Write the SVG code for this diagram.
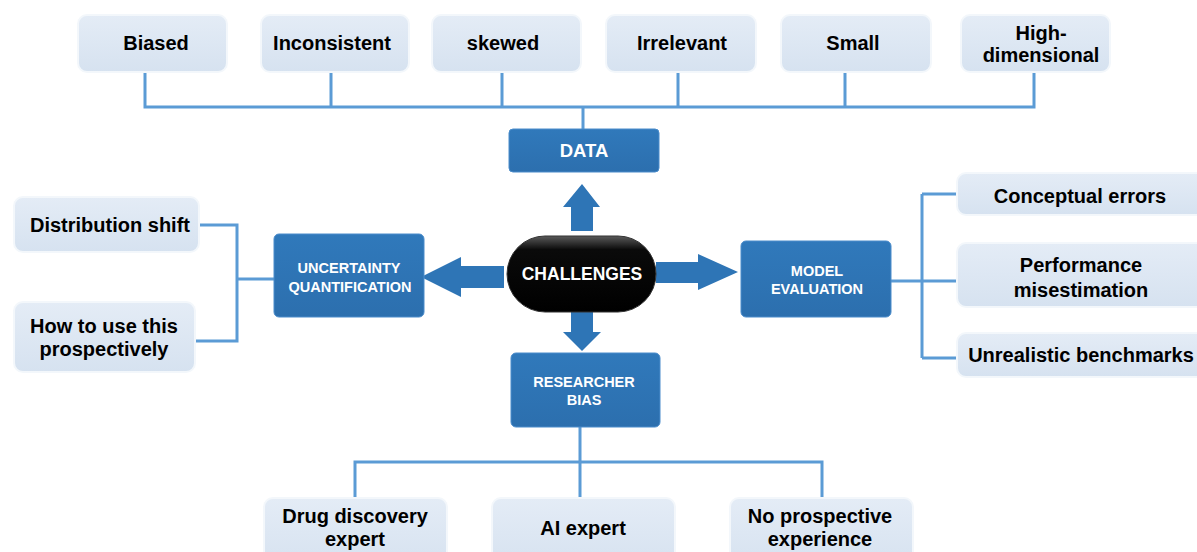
<svg xmlns="http://www.w3.org/2000/svg" width="1197" height="552" viewBox="0 0 1197 552">
<defs>
<linearGradient id="lg" x1="0" y1="0" x2="0" y2="1">
<stop offset="0" stop-color="#e4ecf6"/>
<stop offset="1" stop-color="#d6e2f0"/>
</linearGradient>
<linearGradient id="dg" x1="0" y1="0" x2="0" y2="1">
<stop offset="0" stop-color="#3079bb"/>
<stop offset="1" stop-color="#2c6fae"/>
</linearGradient>
<linearGradient id="pg" x1="0" y1="0" x2="0" y2="1">
<stop offset="0" stop-color="#5a5a5a"/>
<stop offset="0.18" stop-color="#0a0a0a"/>
<stop offset="1" stop-color="#000000"/>
</linearGradient>
</defs>
<style>
.lb{fill:url(#lg);stroke:#f3f7fb;stroke-width:2}
.db{fill:url(#dg);stroke:#4a8ccb;stroke-width:1}
.lt{font-family:"Liberation Sans",Arial,sans-serif;font-weight:bold;font-size:20px;fill:#000;text-anchor:middle}
.wt{font-family:"Liberation Sans",Arial,sans-serif;font-weight:bold;font-size:14.5px;fill:#fff;text-anchor:middle}
.conn{fill:none;stroke:#5b9bd5;stroke-width:3}
.arr{fill:#2e75b6}
</style>
<rect width="1197" height="552" fill="#fff"/>

<g id="connectors">
<path class="conn" d="M145 72V107H1034V72M331 72V107M502 72V107M678 72V107M845 72V107M583 107V130"/>
<path class="conn" d="M199 225H237V341H195M237 279H274"/>
<path class="conn" d="M891 281H957M922 194V358M922 194H957M922 358H957"/>
<path class="conn" d="M580 427V498M355 498V462H822V498"/>
<polygon class="arr" points="571,231 571,207 563,207 582,184 600,207 593,207 593,231"/>
<polygon class="arr" points="571,312 593,312 593,332 601,332 582,351 563,332 571,332"/>
<polygon class="arr" points="656,262 698,262 698,254 738,272 698,290 698,283 656,283"/>
<polygon class="arr" points="504,266 461,266 461,257 421,277 461,297 461,288 504,288"/>
</g>

<g id="n-biased"><rect class="lb" x="78" y="15" width="149" height="57" rx="9"/><text class="lt" x="156" y="50">Biased</text></g>
<g id="n-inconsistent"><rect class="lb" x="261" y="15" width="148" height="57" rx="9"/><text class="lt" x="332" y="50">Inconsistent</text></g>
<g id="n-skewed"><rect class="lb" x="432" y="15" width="149" height="57" rx="9"/><text class="lt" x="503" y="50">skewed</text></g>
<g id="n-irrelevant"><rect class="lb" x="606" y="15" width="150" height="57" rx="9"/><text class="lt" x="682" y="50">Irrelevant</text></g>
<g id="n-small"><rect class="lb" x="781" y="15" width="150" height="57" rx="9"/><text class="lt" x="853" y="50">Small</text></g>
<g id="n-highdim"><rect class="lb" x="961" y="15" width="149" height="57" rx="9"/><text class="lt" x="1041" y="40">High-</text><text class="lt" x="1041" y="62">dimensional</text></g>

<g id="n-data"><rect class="db" x="509" y="129" width="150" height="43" rx="4"/><text class="wt" x="584" y="157" style="font-size:18.5px">DATA</text></g>

<g id="n-challenges"><rect x="507" y="236" width="149" height="76" rx="38" fill="url(#pg)" stroke="#333" stroke-width="1"/><text class="wt" x="582" y="280" style="font-size:17.5px">CHALLENGES</text></g>

<g id="n-uq"><rect class="db" x="274" y="234" width="150" height="83" rx="5"/><text class="wt" x="349" y="273">UNCERTAINTY</text><text class="wt" x="350" y="292">QUANTIFICATION</text></g>

<g id="n-me"><rect class="db" x="741" y="241" width="150" height="76" rx="5"/><text class="wt" x="817" y="276">MODEL</text><text class="wt" x="817" y="294">EVALUATION</text></g>

<g id="n-rb"><rect class="db" x="511" y="353" width="149" height="74" rx="5"/><text class="wt" x="584" y="387">RESEARCHER</text><text class="wt" x="584" y="405">BIAS</text></g>

<g id="n-dist"><rect class="lb" x="14" y="197" width="185" height="55" rx="9"/><text class="lt" x="110" y="232">Distribution shift</text></g>
<g id="n-howto"><rect class="lb" x="14" y="302" width="181" height="70" rx="9"/><text class="lt" x="104" y="333">How to use this</text><text class="lt" x="104" y="356">prospectively</text></g>

<g id="n-concept"><rect class="lb" x="957" y="173" width="250" height="42" rx="9"/><text class="lt" x="1080" y="203">Conceptual errors</text></g>
<g id="n-perf"><rect class="lb" x="957" y="243" width="250" height="64" rx="9"/><text class="lt" x="1081" y="272">Performance</text><text class="lt" x="1081" y="297">misestimation</text></g>
<g id="n-unreal"><rect class="lb" x="957" y="333" width="250" height="44" rx="9"/><text class="lt" x="1081" y="362">Unrealistic benchmarks</text></g>

<g id="n-drug"><rect class="lb" x="264" y="498" width="183" height="70" rx="9"/><text class="lt" x="355" y="523">Drug discovery</text><text class="lt" x="355" y="546">expert</text></g>
<g id="n-ai"><rect class="lb" x="492" y="498" width="183" height="70" rx="9"/><text class="lt" x="583" y="535">AI expert</text></g>
<g id="n-noprosp"><rect class="lb" x="730" y="498" width="183" height="70" rx="9"/><text class="lt" x="820" y="523">No prospective</text><text class="lt" x="820" y="546">experience</text></g>
</svg>
